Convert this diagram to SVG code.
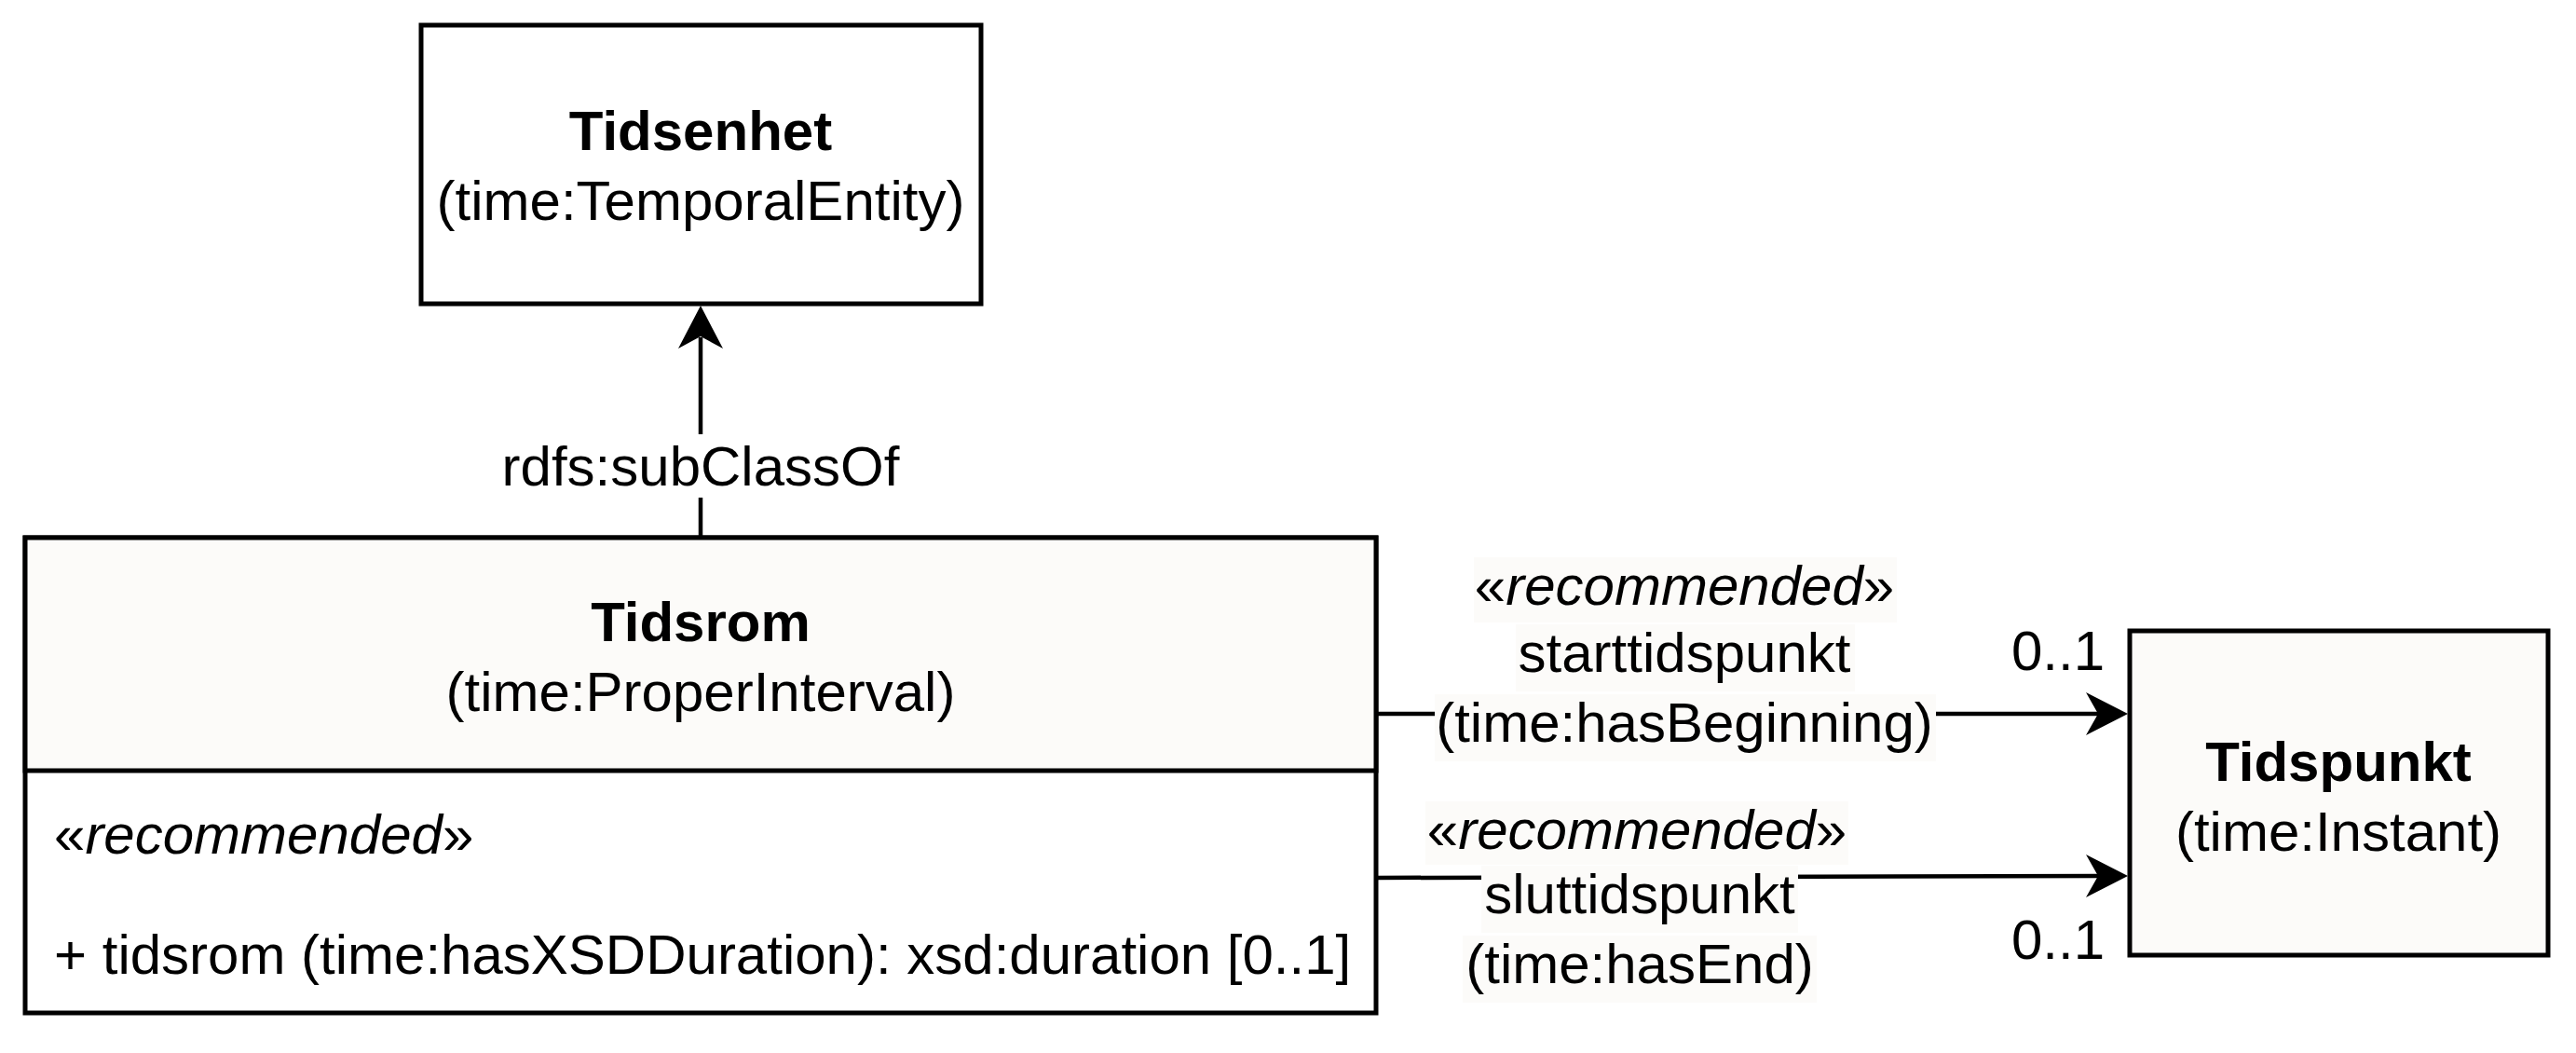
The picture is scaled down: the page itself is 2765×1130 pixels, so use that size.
<svg xmlns="http://www.w3.org/2000/svg" width="2765" height="1130" viewBox="0 0 2765 1130">
<style>
text{font-family:"Liberation Sans",Arial,Helvetica,sans-serif;font-size:60px;fill:#000}
.b{font-weight:bold}
.c{text-anchor:middle}
.e{text-anchor:end}
.box{stroke:#000;stroke-width:5;fill:#fcfbf9}
.wbox{stroke:#000;stroke-width:5;fill:#fff}
.edge{stroke:#000;stroke-width:4.5;fill:none}
.lbg{fill:#fcfbf9;stroke:none}
.head{fill:#000;stroke:none}
</style>
<rect x="0" y="0" width="2765" height="1130" fill="#fff"/>
<g id="tidsenhet">
<rect class="wbox" x="452" y="27" width="601" height="299"/>
<text class="b c" x="752" y="161">Tidsenhet</text>
<text class="c" x="752" y="236">(time:TemporalEntity)</text>
</g>
<g id="tidsrom">
<rect class="wbox" x="27" y="577" width="1450" height="510"/>
<rect class="box" x="27" y="577" width="1450" height="250"/>
<text class="b c" x="752" y="688">Tidsrom</text>
<text class="c" x="752" y="763">(time:ProperInterval)</text>
<text x="58" y="916">«<tspan font-style="italic">recommended</tspan>»</text>
<text x="58" y="1045">+ tidsrom (time:hasXSDDuration): xsd:duration [0..1]</text>
</g>
<g id="tidspunkt">
<rect class="box" x="2286" y="677" width="449" height="348"/>
<text class="b c" x="2510" y="838">Tidspunkt</text>
<text class="c" x="2510" y="913">(time:Instant)</text>
</g>
<g id="connectors">
<g id="edge-subclass">
<line class="edge" x1="752" y1="577" x2="752" y2="362"/>
<polygon class="head" points="752,328 776,374 752,361 728,374"/>
<rect x="538" y="466" width="428" height="68" fill="#fff"/>
<text class="c" x="752" y="521">rdfs:subClassOf</text>
</g>
<g id="edge-start">
<line class="edge" x1="1477" y1="766" x2="2254" y2="766"/>
<polygon class="head" points="2284,766 2239,789 2252,766 2239,743"/>
<rect class="lbg" x="1582" y="598" width="454" height="70"/>
<rect class="lbg" x="1627" y="670" width="364" height="72"/>
<rect class="lbg" x="1540" y="745" width="538" height="72"/>
<text class="c" x="1808" y="649">«<tspan font-style="italic">recommended</tspan>»</text>
<text class="c" x="1808" y="721">starttidspunkt</text>
<text class="c" x="1808" y="796">(time:hasBeginning)</text>
<text class="e" x="2259" y="719">0..1</text>
</g>
<g id="edge-end">
<line class="edge" x1="1477" y1="942" x2="2254" y2="940"/>
<polygon class="head" points="2284,940 2239,963 2252,940 2239,917"/>
<rect class="lbg" x="1530" y="860" width="454" height="68"/>
<rect class="lbg" x="1590" y="929" width="340" height="72"/>
<rect class="lbg" x="1570" y="1004" width="380" height="72"/>
<text class="c" x="1757" y="911">«<tspan font-style="italic">recommended</tspan>»</text>
<text class="c" x="1760" y="980">sluttidspunkt</text>
<text class="c" x="1760" y="1055">(time:hasEnd)</text>
<text class="e" x="2259" y="1029">0..1</text>
</g>
</g>
</svg>
